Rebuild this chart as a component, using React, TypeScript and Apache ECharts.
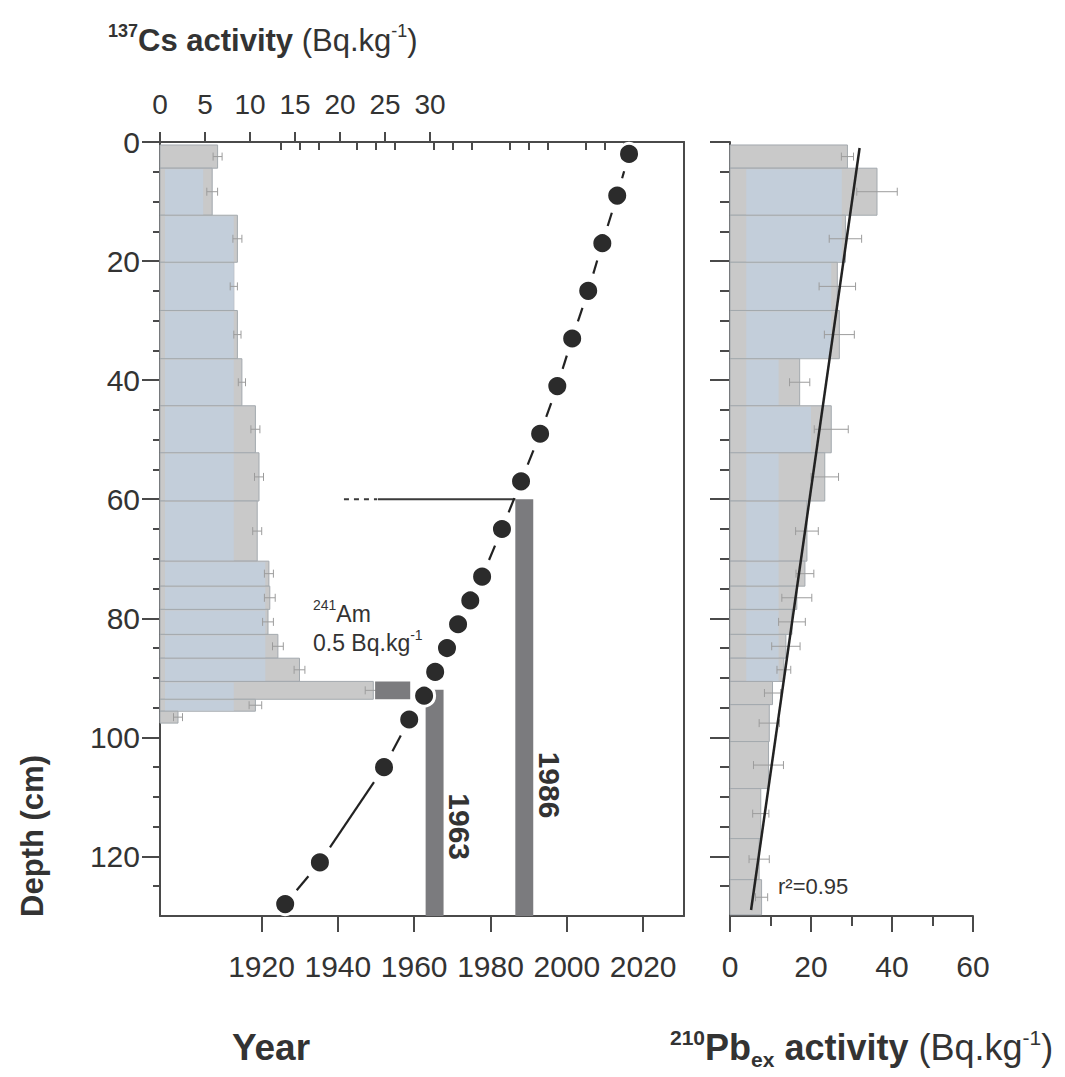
import React, { useEffect, useRef } from 'react';
import * as echarts from 'echarts';

// ---------------- DATA ----------------
// 137Cs profile (depth intervals in cm, activity in Bq/kg)
const csTop = [0.5, 4.4, 12.3, 20.2, 28.3, 36.4, 44.3, 52.2, 60.3, 70.4, 74.6, 78.5, 82.7, 86.7, 90.6, 93.6, 95.6];
const csBottom = [4.4, 12.3, 20.2, 28.3, 36.4, 44.3, 52.2, 60.3, 70.4, 74.6, 78.5, 82.7, 86.7, 90.6, 93.6, 95.6, 97.6];
const csActivity = [6.4, 5.8, 8.6, 8.2, 8.6, 9.1, 10.6, 11.0, 10.8, 12.1, 12.2, 12.0, 13.1, 15.5, 23.7, 10.6, 2.0];
const csError = [0.5, 0.6, 0.5, 0.4, 0.4, 0.4, 0.5, 0.5, 0.5, 0.5, 0.6, 0.6, 0.6, 0.6, 0.9, 0.7, 0.5];
const csBlueStart = 0.55;
const csBlueEnd = [0, 4.8, 8.2, 8.2, 8.2, 8.2, 8.2, 8.2, 8.2, 11.7, 11.7, 11.7, 11.7, 11.7, 8.2, 8.2, 0];

// 241Am peak
const amTop = 90.6;
const amBottom = 93.6;
const amStart = 23.9;
const amEnd = 27.8;

// Age-depth model
const chronoDepth = [2, 9, 17, 25, 33, 41, 49, 57, 65, 73, 77, 81, 85, 89, 93, 97, 105, 121, 128];
const chronoYear = [2016.3, 2013.2, 2009.3, 2005.6, 2001.4, 1997.5, 1993.0, 1988.0, 1983.0, 1977.8, 1974.7, 1971.5, 1968.6, 1965.5, 1962.6, 1958.7, 1952.1, 1935.3, 1926.2];

// Time markers
const eventLabels = ['1963', '1986'];
const eventStart = [1963.0, 1986.5];
const eventEnd = [1967.7, 1991.2];
const eventTopDepth = [92, 60];
const eventLabelDepth = [115, 108];
const coreBase = 130;

// 1986 depth marker line
const markerDepth = 60;
const markerDashed = [1941.6, 1950.3];
const markerSolid = [1950.5, 1986.5];

// 210Pb excess profile
const pbTop = [0.5, 4.4, 12.3, 20.2, 28.3, 36.4, 44.3, 52.2, 60.3, 70.4, 74.6, 78.5, 82.7, 86.7, 90.6, 94.5, 100.7, 108.6, 117.0, 123.9];
const pbBottom = [4.4, 12.3, 20.2, 28.3, 36.4, 44.3, 52.2, 60.3, 70.4, 74.6, 78.5, 82.7, 86.7, 90.6, 94.5, 100.7, 108.6, 117.0, 123.9, 129.8];
const pbActivity = [29.0, 36.3, 28.5, 26.5, 27.0, 17.2, 25.0, 23.4, 19.0, 18.5, 16.5, 15.3, 13.8, 13.3, 10.5, 9.7, 9.5, 7.6, 7.2, 7.8];
const pbError = [1.5, 5.0, 4.0, 4.5, 3.7, 2.5, 4.2, 3.4, 2.8, 2.2, 3.7, 3.3, 3.5, 1.7, 2.0, 2.5, 3.7, 2.0, 2.5, 1.5];
const pbBlueStart = 4;
const pbBlueEnd = [0, 27.6, 27.6, 25.0, 25.0, 12, 20, 12, 12, 12, 12, 12, 12, 12, 0, 0, 0, 0, 0, 0];

// Regression line endpoints
const pbFitActivity = [32.0, 5.2];
const pbFitDepth = [1, 129];
const r2Label = 'r²=0.95';

// Axis ticks
const depthMajor = [0, 20, 40, 60, 80, 100, 120];
const depthMinor = [5, 10, 15, 25, 30, 35, 45, 50, 55, 65, 70, 75, 85, 90, 95, 105, 110, 115, 125];
const csTicks = [0, 5, 10, 15, 20, 25, 30];
const yearMajor = [1920, 1940, 1960, 1980, 2000, 2020];
const yearMinor = [1925, 1930, 1935, 1945, 1950, 1955, 1965, 1970, 1975, 1985, 1990, 1995, 2005, 2010, 2015];

// ---------------- STYLE ----------------
const FONT = '"Liberation Sans", Arial, Helvetica, sans-serif';
const AX = '#4a4a4a';
const TXT = '#333333';
const GRAY = '#c9c9c9';
const EDGE = '#a3a9ae';
const BLUE = '#c3ceda';
const ERR = '#9c9c9c';
const DARK = '#7b7b7e';
const YEAR_MIN = 1893.4;
const YEAR_MAX = 2030.7;
const CS_MAX = 58.22;

let measureCtx: CanvasRenderingContext2D | null = null;
function textWidth(t: string, size: number, weight: string) {
  if (!measureCtx) measureCtx = document.createElement('canvas').getContext('2d');
  if (!measureCtx) return t.length * size * 0.55;
  measureCtx.font = `${weight} ${size}px ${FONT}`;
  return measureCtx.measureText(t).width;
}

type Part = { t: string; size: number; bold?: boolean; dy?: number };
function runText(parts: Part[], x: number, y: number, anchor: 'left' | 'center' = 'left') {
  const widths = parts.map((p) => textWidth(p.t, p.size, p.bold ? 'bold' : 'normal'));
  const total = widths.reduce((a, b) => a + b, 0);
  let cx = anchor === 'center' ? x - total / 2 : x;
  return parts.map((p, i) => {
    const el = {
      type: 'text',
      x: cx,
      y: y + (p.dy || 0),
      z: 100,
      style: {
        text: p.t,
        font: `${p.bold ? 'bold' : 'normal'} ${p.size}px ${FONT}`,
        fill: TXT,
        align: 'left',
        verticalAlign: 'middle',
        textAlign: 'left',
        textVerticalAlign: 'middle',
      },
    };
    cx += widths[i];
    return el;
  });
}

function profileRender(blueStart: number) {
  return (params: any, api: any) => {
    const v = api.value(0);
    const top = api.value(1);
    const bot = api.value(2);
    const err = api.value(3);
    const blueEnd = api.value(4);
    const a = api.coord([0, top]);
    const b = api.coord([v, bot]);
    const children: any[] = [
      {
        type: 'rect',
        shape: { x: a[0], y: a[1], width: b[0] - a[0], height: b[1] - a[1] },
        style: { fill: GRAY, stroke: EDGE, lineWidth: 1 },
      },
    ];
    const be = Math.min(blueEnd, v);
    if (be > blueStart) {
      const c = api.coord([blueStart, top]);
      const d = api.coord([be, bot]);
      children.push({
        type: 'rect',
        shape: { x: c[0], y: c[1] + 1, width: d[0] - c[0], height: d[1] - c[1] - 1.5 },
        style: { fill: BLUE },
      });
    }
    const mid = (top + bot) / 2;
    const ym = api.coord([v, mid])[1];
    const e0 = api.coord([v - err, mid])[0];
    const e1 = api.coord([v + err, mid])[0];
    children.push({ type: 'line', shape: { x1: e0, y1: ym, x2: e1, y2: ym }, style: { stroke: ERR, lineWidth: 1 } });
    children.push({ type: 'line', shape: { x1: e0, y1: ym - 4, x2: e0, y2: ym + 4 }, style: { stroke: ERR, lineWidth: 1 } });
    children.push({ type: 'line', shape: { x1: e1, y1: ym - 4, x2: e1, y2: ym + 4 }, style: { stroke: ERR, lineWidth: 1 } });
    return { type: 'group', children };
  };
}

function buildOption(): any {
  const axisLine = { show: true, onZero: false, lineStyle: { color: AX, width: 2 } };
  const tickStyle = { color: AX, width: 2 };
  const labelStyle = { fontSize: 30, color: TXT, fontFamily: FONT };
  const plain = (v: number) => String(v);

  const csData = csActivity.map((v, i) => [v, csTop[i], csBottom[i], csError[i], csBlueEnd[i]]);
  const pbData = pbActivity.map((v, i) => [v, pbTop[i], pbBottom[i], pbError[i], pbBlueEnd[i]]);
  const chronoPts = chronoYear.map((y, i) => [y, chronoDepth[i]]);
  const links = chronoYear.slice(0, -1).map((y, i) => [y, chronoDepth[i], chronoYear[i + 1], chronoDepth[i + 1]]);
  const events = eventStart.map((s, i) => [s, eventEnd[i], eventTopDepth[i], coreBase, eventLabelDepth[i]]);

  const graphic: any[] = [
    ...runText(
      [
        { t: '137', size: 18, bold: true, dy: -9 },
        { t: 'Cs activity', size: 31, bold: true },
        { t: ' (Bq.kg', size: 31 },
        { t: '-1', size: 18, dy: -9 },
        { t: ')', size: 31 },
      ],
      108,
      40
    ),
    ...runText([{ t: 'Year', size: 37, bold: true }], 271, 1047, 'center'),
    ...runText(
      [
        { t: '210', size: 21, bold: true, dy: -10 },
        { t: 'Pb', size: 36, bold: true },
        { t: 'ex', size: 21, bold: true, dy: 12 },
        { t: ' activity', size: 36, bold: true },
        { t: ' (Bq.kg', size: 36 },
        { t: '-1', size: 21, dy: -10 },
        { t: ')', size: 36 },
      ],
      670,
      1047
    ),
    {
      type: 'text',
      x: 32,
      y: 836,
      rotation: Math.PI / 2,
      z: 100,
      style: {
        text: 'Depth (cm)',
        font: `bold 31px ${FONT}`,
        fill: TXT,
        align: 'center',
        verticalAlign: 'middle',
        textAlign: 'center',
        textVerticalAlign: 'middle',
      },
    },
    ...runText([{ t: '241', size: 14, dy: -9 }, { t: 'Am', size: 23 }], 313, 614),
    ...runText([{ t: '0.5 Bq.kg', size: 23 }, { t: '-1', size: 14, dy: -8 }], 313, 643),
    ...runText([{ t: r2Label, size: 22 }], 778, 886),
  ];

  return {
    animation: false,
    backgroundColor: '#ffffff',
    textStyle: { fontFamily: FONT },
    grid: [
      { left: 160, top: 142, width: 524, height: 774, containLabel: false },
      { left: 730, top: 142, width: 243, height: 774, containLabel: false },
    ],
    xAxis: [
      {
        type: 'value', gridIndex: 0, position: 'top', min: 0, max: CS_MAX,
        axisLine,
        axisTick: { show: true, customValues: csTicks, length: 10, lineStyle: tickStyle },
        axisLabel: { show: true, customValues: csTicks, margin: 24, formatter: plain, ...labelStyle, fontSize: 28 },
        splitLine: { show: false },
      },
      {
        type: 'value', gridIndex: 0, position: 'bottom', min: YEAR_MIN, max: YEAR_MAX,
        axisLine,
        axisTick: { show: true, customValues: yearMajor, length: 16, lineStyle: tickStyle },
        axisLabel: { show: true, customValues: yearMajor, margin: 35, formatter: plain, ...labelStyle },
        splitLine: { show: false },
      },
      {
        type: 'value', gridIndex: 0, position: 'bottom', min: YEAR_MIN, max: YEAR_MAX,
        axisLine: { show: false },
        axisTick: { show: true, customValues: yearMinor, length: 8, lineStyle: tickStyle },
        axisLabel: { show: false },
        splitLine: { show: false },
      },
      {
        type: 'value', gridIndex: 1, position: 'bottom', min: 0, max: 60, interval: 20,
        axisLine,
        axisTick: { show: true, length: 16, lineStyle: tickStyle },
        minorTick: { show: true, splitNumber: 2, length: 10, lineStyle: tickStyle },
        axisLabel: { show: true, margin: 35, formatter: plain, ...labelStyle },
        splitLine: { show: false },
      },
    ],
    yAxis: [
      {
        type: 'value', gridIndex: 0, position: 'left', min: 0, max: 130, inverse: true,
        axisLine,
        axisTick: { show: true, customValues: depthMajor, length: 18, lineStyle: tickStyle },
        axisLabel: { show: true, customValues: depthMajor, margin: 20, formatter: plain, ...labelStyle },
        splitLine: { show: false },
      },
      {
        type: 'value', gridIndex: 0, position: 'left', min: 0, max: 130, inverse: true,
        axisLine: { show: false },
        axisTick: { show: true, customValues: depthMinor, length: 7, lineStyle: tickStyle },
        axisLabel: { show: false },
        splitLine: { show: false },
      },
      {
        type: 'value', gridIndex: 0, position: 'right', min: 0, max: 130, inverse: true,
        axisLine,
        axisTick: { show: false },
        axisLabel: { show: false },
        splitLine: { show: false },
      },
      {
        type: 'value', gridIndex: 1, position: 'left', min: 0, max: 130, inverse: true,
        axisLine,
        axisTick: { show: true, customValues: depthMajor, length: 20, lineStyle: tickStyle },
        axisLabel: { show: false },
        splitLine: { show: false },
      },
      {
        type: 'value', gridIndex: 1, position: 'left', min: 0, max: 130, inverse: true,
        axisLine: { show: false },
        axisTick: { show: true, customValues: depthMinor, length: 10, lineStyle: tickStyle },
        axisLabel: { show: false },
        splitLine: { show: false },
      },
    ],
    series: [
      {
        type: 'custom', name: 'Cs', xAxisIndex: 0, yAxisIndex: 0, z: 1, silent: true,
        data: csData, renderItem: profileRender(csBlueStart),
      },
      {
        type: 'custom', name: 'Am', xAxisIndex: 0, yAxisIndex: 0, z: 2, silent: true,
        data: [[amStart, amEnd, amTop, amBottom]],
        renderItem: (params: any, api: any) => {
          const a = api.coord([api.value(0), api.value(2)]);
          const b = api.coord([api.value(1), api.value(3)]);
          return { type: 'rect', shape: { x: a[0], y: a[1], width: b[0] - a[0], height: b[1] - a[1] }, style: { fill: DARK } };
        },
      },
      {
        type: 'custom', name: 'events', xAxisIndex: 1, yAxisIndex: 0, z: 3, silent: true,
        data: events,
        renderItem: (params: any, api: any) => {
          const a = api.coord([api.value(0), api.value(2)]);
          const b = api.coord([api.value(1), api.value(3)]);
          const l = api.coord([api.value(1), api.value(4)]);
          return {
            type: 'group',
            children: [
              { type: 'rect', shape: { x: a[0], y: a[1], width: b[0] - a[0], height: b[1] - a[1] }, style: { fill: DARK } },
              {
                type: 'text', x: l[0] + 16, y: l[1], rotation: -Math.PI / 2,
                style: {
                  text: eventLabels[params.dataIndex], font: `bold 30px ${FONT}`, fill: TXT,
                  align: 'center', verticalAlign: 'middle', textAlign: 'center', textVerticalAlign: 'middle',
                },
              },
            ],
          };
        },
      },
      {
        type: 'line', name: 'marker-dashed', xAxisIndex: 1, yAxisIndex: 0, z: 4, silent: true,
        symbol: 'none', data: markerDashed.map((y) => [y, markerDepth]),
        lineStyle: { color: '#3a3a3a', width: 2, type: [5, 5] },
      },
      {
        type: 'line', name: 'marker-solid', xAxisIndex: 1, yAxisIndex: 0, z: 4, silent: true,
        symbol: 'none', data: markerSolid.map((y) => [y, markerDepth]),
        lineStyle: { color: '#3a3a3a', width: 2 },
      },
      {
        type: 'custom', name: 'links', xAxisIndex: 1, yAxisIndex: 0, z: 5, silent: true,
        data: links,
        renderItem: (params: any, api: any) => {
          const p0 = api.coord([api.value(0), api.value(1)]);
          const p1 = api.coord([api.value(2), api.value(3)]);
          const dx = p1[0] - p0[0];
          const dy = p1[1] - p0[1];
          const len = Math.sqrt(dx * dx + dy * dy);
          const s = 18;
          if (len <= 2 * s + 1) return { type: 'group', children: [] };
          const ux = dx / len;
          const uy = dy / len;
          return {
            type: 'line',
            shape: { x1: p0[0] + ux * s, y1: p0[1] + uy * s, x2: p1[0] - ux * s, y2: p1[1] - uy * s },
            style: { stroke: '#222', lineWidth: 2.2 },
          };
        },
      },
      {
        type: 'scatter', name: 'chronology', xAxisIndex: 1, yAxisIndex: 0, z: 6, silent: true,
        data: chronoPts, symbol: 'circle', symbolSize: 21,
        itemStyle: { color: '#2b2b2b', borderColor: '#ffffff', borderWidth: 3, opacity: 1 },
      },
      {
        type: 'custom', name: 'Pb', xAxisIndex: 3, yAxisIndex: 3, z: 1, silent: true,
        data: pbData, renderItem: profileRender(pbBlueStart),
      },
      {
        type: 'line', name: 'fit', xAxisIndex: 3, yAxisIndex: 3, z: 5, silent: true,
        symbol: 'none', data: pbFitActivity.map((v, i) => [v, pbFitDepth[i]]),
        lineStyle: { color: '#222', width: 2.5 },
      },
    ],
    graphic,
  };
}

export default function App() {
  const ref = useRef<HTMLDivElement>(null);
  useEffect(() => {
    if (!ref.current) return;
    const chart = echarts.init(ref.current, null, { renderer: 'svg' });
    chart.setOption(buildOption());
    return () => chart.dispose();
  }, []);
  return (
    <div
      ref={ref}
      style={{ position: 'absolute', left: 0, top: 0, width: 1065, height: 1077, background: '#ffffff' }}
    />
  );
}
